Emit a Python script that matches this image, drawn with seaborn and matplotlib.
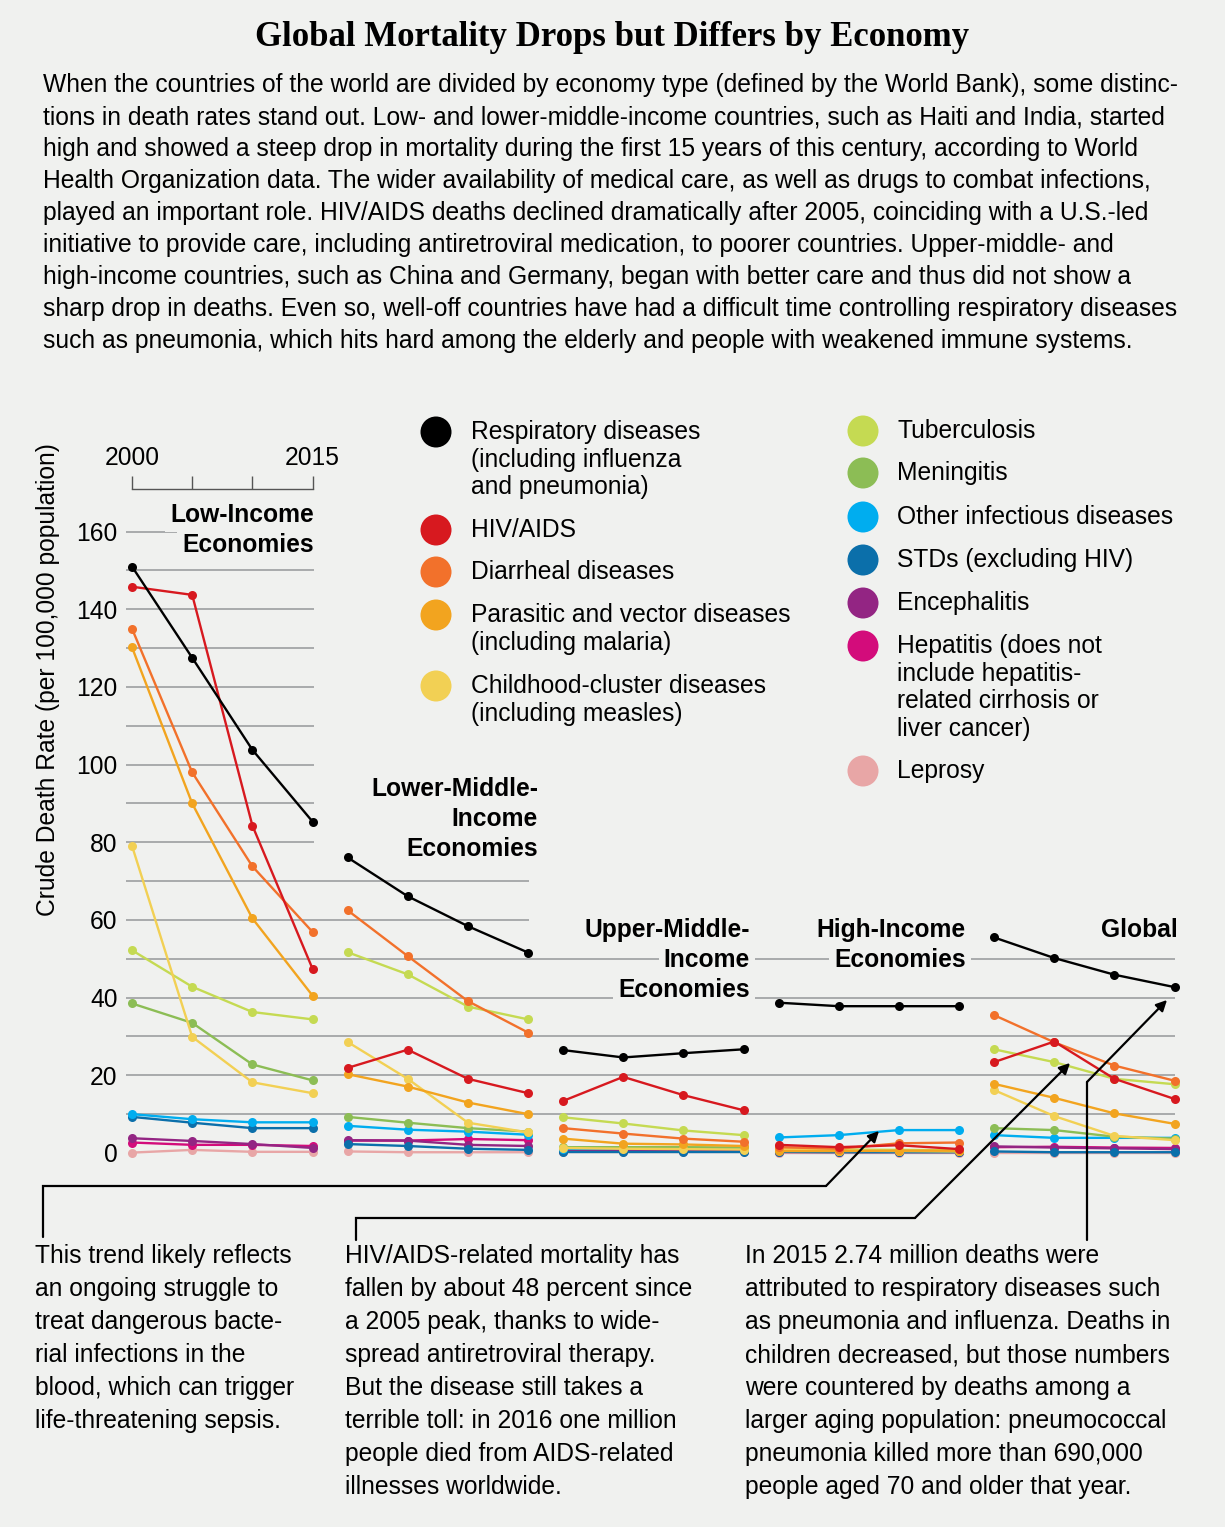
import pandas as pd
import matplotlib
matplotlib.use('Agg')
import matplotlib.pyplot as plt
import seaborn as sns

# ---- data (crude death rate per 100,000) ----
years = [2000, 2005, 2010, 2015]
economies = ['Low-Income', 'Lower-Middle-Income', 'Upper-Middle-Income',
             'High-Income', 'Global']
causes = ['Respiratory', 'HIV/AIDS', 'Diarrheal', 'Parasitic', 'Childhood',
          'Tuberculosis', 'Meningitis', 'Other infectious', 'STDs',
          'Encephalitis', 'Hepatitis', 'Leprosy']
colors = ['#000000', '#d7191f', '#f2712b', '#f2a41f', '#f2d054', '#c5da52',
          '#8cbd55', '#00adef', '#0b6faa', '#932583', '#d30c7b', '#e8a6a6']

low_income = {
    'Respiratory':      [151.0, 127.5, 103.8, 85.3],
    'HIV/AIDS':         [145.8, 143.7, 84.3, 47.4],
    'Diarrheal':        [135.0, 98.0, 73.8, 56.9],
    'Parasitic':        [130.2, 90.0, 60.4, 40.5],
    'Childhood':        [79.1, 29.9, 18.2, 15.4],
    'Tuberculosis':     [52.2, 42.8, 36.3, 34.4],
    'Meningitis':       [38.5, 33.5, 22.8, 18.7],
    'Other infectious': [10.0, 8.7, 7.9, 7.9],
    'STDs':             [9.3, 7.8, 6.4, 6.4],
    'Encephalitis':     [3.8, 3.1, 2.3, 1.3],
    'Hepatitis':        [2.7, 2.1, 2.1, 1.8],
    'Leprosy':          [0.1, 0.8, 0.3, 0.3],
}
lower_middle = {
    'Respiratory':      [76.1, 66.1, 58.4, 51.6],
    'HIV/AIDS':         [21.9, 26.6, 19.1, 15.4],
    'Diarrheal':        [62.5, 50.7, 39.1, 31.0],
    'Parasitic':        [20.3, 17.1, 13.0, 10.0],
    'Childhood':        [28.6, 19.1, 7.8, 5.3],
    'Tuberculosis':     [51.7, 46.0, 37.7, 34.4],
    'Meningitis':       [9.3, 7.8, 6.4, 5.5],
    'Other infectious': [7.0, 6.0, 5.5, 4.7],
    'STDs':             [2.3, 1.8, 1.1, 0.8],
    'Encephalitis':     [3.3, 3.2, 2.1, 1.8],
    'Hepatitis':        [3.2, 3.2, 3.6, 3.3],
    'Leprosy':          [0.4, 0.2, 0.2, 0.2],
}
upper_middle = {
    'Respiratory':      [26.5, 24.6, 25.7, 26.7],
    'HIV/AIDS':         [13.4, 19.6, 14.9, 11.0],
    'Diarrheal':        [6.4, 5.0, 3.7, 2.9],
    'Parasitic':        [3.7, 2.4, 2.2, 1.8],
    'Childhood':        [1.3, 1.1, 1.0, 0.9],
    'Tuberculosis':     [9.2, 7.6, 5.8, 4.6],
    'Meningitis':       [1.5, 1.5, 1.5, 1.4],
    'Other infectious': [1.1, 1.2, 1.2, 1.1],
    'STDs':             [0.2, 0.2, 0.2, 0.2],
    'Encephalitis':     [0.4, 0.4, 0.4, 0.4],
    'Hepatitis':        [0.6, 0.7, 0.6, 0.5],
    'Leprosy':          [0.2, 0.2, 0.2, 0.2],
}
high_income = {
    'Respiratory':      [38.7, 37.8, 37.8, 37.8],
    'HIV/AIDS':         [2.1, 1.5, 2.0, 1.0],
    'Diarrheal':        [1.5, 1.1, 2.5, 2.7],
    'Parasitic':        [0.5, 0.5, 0.6, 0.6],
    'Childhood':        [1.0, 0.6, 0.5, 0.4],
    'Tuberculosis':     [1.2, 0.9, 0.8, 0.7],
    'Meningitis':       [0.7, 0.6, 0.6, 0.5],
    'Other infectious': [4.0, 4.6, 5.9, 5.9],
    'STDs':             [0.3, 0.2, 0.2, 0.2],
    'Encephalitis':     [0.3, 0.3, 0.3, 0.3],
    'Hepatitis':        [0.5, 0.5, 0.6, 0.5],
    'Leprosy':          [0.0, 0.0, 0.0, 0.0],
}
global_all = {
    'Respiratory':      [55.5, 50.2, 45.9, 42.7],
    'HIV/AIDS':         [23.4, 28.7, 19.1, 13.9],
    'Diarrheal':        [35.5, 28.5, 22.5, 18.6],
    'Parasitic':        [17.8, 14.2, 10.2, 7.5],
    'Childhood':        [16.2, 9.5, 4.4, 3.3],
    'Tuberculosis':     [26.7, 23.4, 19.1, 17.7],
    'Meningitis':       [6.4, 5.9, 4.2, 3.7],
    'Other infectious': [4.6, 3.9, 3.9, 3.9],
    'STDs':             [0.4, 0.2, 0.2, 0.2],
    'Encephalitis':     [1.7, 1.4, 1.2, 1.0],
    'Hepatitis':        [1.5, 1.6, 1.4, 1.3],
    'Leprosy':          [0.1, 0.1, 0.1, 0.1],
}
tables = [low_income, lower_middle, upper_middle, high_income, global_all]

legend_labels = [
    ['Respiratory diseases', '(including influenza', 'and pneumonia)'],
    ['HIV/AIDS'],
    ['Diarrheal diseases'],
    ['Parasitic and vector diseases', '(including malaria)'],
    ['Childhood-cluster diseases', '(including measles)'],
    ['Tuberculosis'],
    ['Meningitis'],
    ['Other infectious diseases'],
    ['STDs (excluding HIV)'],
    ['Encephalitis'],
    ['Hepatitis (does not', 'include hepatitis-', 'related cirrhosis or', 'liver cancer)'],
    ['Leprosy'],
]

title = 'Global Mortality Drops but Differs by Economy'
intro = [
    'When the countries of the world are divided by economy type (defined by the World Bank), some distinc-',
    'tions in death rates stand out. Low- and lower-middle-income countries, such as Haiti and India, started',
    'high and showed a steep drop in mortality during the first 15 years of this century, according to World',
    'Health Organization data. The wider availability of medical care, as well as drugs to combat infections,',
    'played an important role. HIV/AIDS deaths declined dramatically after 2005, coinciding with a U.S.-led',
    'initiative to provide care, including antiretroviral medication, to poorer countries. Upper-middle- and',
    'high-income countries, such as China and Germany, began with better care and thus did not show a',
    'sharp drop in deaths. Even so, well-off countries have had a difficult time controlling respiratory diseases',
    'such as pneumonia, which hits hard among the elderly and people with weakened immune systems.',
]
note_sepsis = ['This trend likely reflects', 'an ongoing struggle to',
               'treat dangerous bacte-', 'rial infections in the',
               'blood, which can trigger', 'life-threatening sepsis.']
note_hiv = ['HIV/AIDS-related mortality has', 'fallen by about 48 percent since',
            'a 2005 peak, thanks to wide-', 'spread antiretroviral therapy.',
            'But the disease still takes a', 'terrible toll: in 2016 one million',
            'people died from AIDS-related', 'illnesses worldwide.']
note_resp = ['In 2015 2.74 million deaths were', 'attributed to respiratory diseases such',
             'as pneumonia and influenza. Deaths in', 'children decreased, but those numbers',
             'were countered by deaths among a', 'larger aging population: pneumococcal',
             'pneumonia killed more than 690,000', 'people aged 70 and older that year.']

# ---- long table; panels laid side by side on one x scale ----
PANEL_STEP = 17.9   # years of x-space between panel starts
rows = []
for i, (econ, table) in enumerate(zip(economies, tables)):
    for cause, vals in table.items():
        for yr, v in zip(years, vals):
            rows.append({'economy': econ, 'cause': cause, 'year': yr,
                         'rate': v, 'pos': yr + PANEL_STEP * i})
df = pd.DataFrame(rows)

BG = '#f0f1ef'
GRID = '#a3a5a6'
FS = 17.7
sns.set_style('white')
plt.rcParams['font.family'] = ['Liberation Sans', 'DejaVu Sans']
plt.rcParams['text.color'] = 'black'

W, H = 1225, 1527
fig = plt.figure(figsize=(W / 100, H / 100), dpi=100, facecolor=BG)

# main axes placed in pixels: x 126..1180, y 489..1165
PX_YEAR = 12.04
PX_UNIT = 3.884
ax = fig.add_axes([126 / W, (H - 1165) / H, (1180 - 126) / W, (1165 - 489) / H])
ax.set_facecolor('none')
ax.set_xlim(2000 - 6 / PX_YEAR, 2000 + (1180 - 132) / PX_YEAR)
ax.set_ylim(-12 / PX_UNIT, 664 / PX_UNIT)

# gridlines, shorter where the panels run out of data
x0 = ax.get_xlim()[0]
end_low = 2015.1
end_lm = 2000 + PANEL_STEP + 15.1
end_all = 2000 + PANEL_STEP * 4 + 15
ax.hlines([v for v in range(80, 170, 10)], x0, end_low, color=GRID, lw=1.3, zorder=0)
ax.hlines([60, 70], x0, end_lm, color=GRID, lw=1.3, zorder=0)
ax.hlines([10, 20, 30, 40, 50], x0, end_all, color=GRID, lw=1.3, zorder=0)

sns.lineplot(data=df, x='pos', y='rate', hue='cause', units='economy',
             estimator=None, hue_order=causes[::-1],
             palette=dict(zip(causes, colors)), marker='o', markersize=6.5,
             markeredgewidth=0, linewidth=1.7, legend=False, ax=ax)

for s in ['left', 'right', 'bottom']:
    ax.spines[s].set_visible(False)
ax.spines['top'].set_bounds(2000, 2015)
ax.spines['top'].set_color('#555555')
ax.spines['top'].set_linewidth(1.0)
ax.xaxis.tick_top()
ax.set_xticks(years)
ax.set_xticklabels(['2000', '', '', '2015'])
ax.tick_params(axis='x', direction='out', length=9.5, width=1.0, color='#555555',
               pad=4, labelsize=FS, labelcolor='black')
ax.set_yticks(range(0, 161, 20))
ax.tick_params(axis='y', length=0, pad=6, labelsize=FS, labelcolor='black')
ax.set_xlabel('')
ax.set_ylabel('')

# ---- overlay in pixel coordinates for text, legend and callouts ----
ov = fig.add_axes([0, 0, 1, 1])
ov.set_xlim(0, W)
ov.set_ylim(H, 0)
ov.axis('off')
ov.patch.set_alpha(0)


def put_lines(x, y, lines, step, **kw):
    for k, line in enumerate(lines):
        ov.text(x, y + k * step, line, va='center', color='black', **kw)


ov.text(W / 2, 37, title, ha='center', va='center', fontsize=25,
        fontweight='bold', family=['Liberation Serif', 'DejaVu Serif'])
put_lines(43, 85, intro, 32, fontsize=FS)

ov.text(48, 680, 'Crude Death Rate (per 100,000 population)', rotation=90,
        ha='center', va='center', fontsize=FS)

# panel titles, boxed in the background colour so they cut the gridlines
box = dict(boxstyle='square,pad=0.2', fc=BG, ec='none')
panel_titles = [
    (314, 515, ['Low-Income', 'Economies']),
    (538, 789, ['Lower-Middle-', 'Income', 'Economies']),
    (750, 930, ['Upper-Middle-', 'Income', 'Economies']),
    (966, 930, ['High-Income', 'Economies']),
    (1178, 930, ['Global']),
]
for x, y, lines in panel_titles:
    put_lines(x, y, lines, 30, ha='right', fontsize=FS, fontweight='bold', bbox=box)

# legend
legend_pos = [(436, 432), (436, 530), (436, 572), (436, 615), (436, 686),
              (863, 431), (863, 473), (863, 517), (863, 560), (863, 603),
              (863, 646), (863, 771)]
for (cx, cy), col, lines in zip(legend_pos, colors, legend_labels):
    ov.add_patch(plt.Circle((cx, cy), 15.5, color=col, lw=0))
    tx = 471 if cx < 600 else 897
    put_lines(tx, cy, lines, 27.6, ha='left', fontsize=FS)

# callout notes
put_lines(35, 1256, note_sepsis, 33, fontsize=FS)
put_lines(345, 1256, note_hiv, 33, fontsize=FS)
put_lines(745, 1256, note_resp, 33, fontsize=FS)

callouts = [
    ([43, 43, 826], [1237, 1186, 1186], (879, 1131)),
    ([356, 356, 915], [1240, 1218, 1218], (1070, 1063)),
    ([1087, 1087], [1240, 1082], (1167, 1000)),
]
for xs, ys, tip in callouts:
    ov.plot(xs, ys, color='black', lw=1.6, solid_joinstyle='miter')
    ov.annotate('', xy=tip, xytext=(xs[-1], ys[-1]),
                arrowprops=dict(arrowstyle='-|>', color='black', lw=1.6,
                                mutation_scale=16, shrinkA=0, shrinkB=0))

fig.savefig('out.png', dpi=100, facecolor=BG)
